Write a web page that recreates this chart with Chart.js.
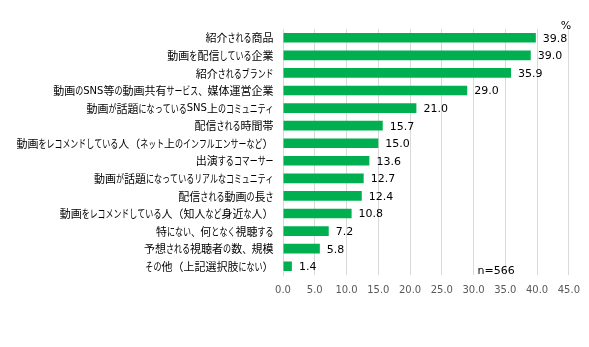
<!DOCTYPE html>
<html>
<head>
<meta charset="utf-8">
<script src="https://cdn.jsdelivr.net/npm/chart.js@4/dist/chart.umd.min.js"></script>
<style>
  html, body { margin: 0; padding: 0; background: #fff; }
  #wrap { width: 589px; height: 347px; position: relative; }
</style>
</head>
<body>
<div id="wrap"><canvas id="c" width="589" height="347"></canvas></div>
<script>
// Survey items (top to bottom) and share of respondents, %
const categories = [
  "紹介される商品",
  "動画を配信している企業",
  "紹介されるブランド",
  "動画のSNS等の動画共有サービス、媒体運営企業",
  "動画が話題になっているSNS上のコミュニティ",
  "配信される時間帯",
  "動画をレコメンドしている人（ネット上のインフルエンサーなど）",
  "出演するコマーサー",
  "動画が話題になっているリアルなコミュニティ",
  "配信される動画の長さ",
  "動画をレコメンドしている人（知人など身近な人）",
  "特にない、何となく視聴する",
  "予想される視聴者の数、規模",
  "その他（上記選択肢にない）"
];
const values = [39.8, 39.0, 35.9, 29.0, 21.0, 15.7, 15.0, 13.6, 12.7, 12.4, 10.8, 7.2, 5.8, 1.4];
const unitLabel = "%";
const sampleLabel = "n=566";

const NUM_FONT = "DejaVu Sans";
const JP_FONT = "Noto Sans CJK JP";

// Kana are set narrower than kanji (UI-style Japanese typesetting)
function charStyle(ch) {
  const c = ch.codePointAt(0);
  if (c < 0x80) return { font: "10px '" + NUM_FONT + "'", sx: 1 };
  if (c >= 0x3041 && c <= 0x309F) return { font: "11px '" + JP_FONT + "'", sx: 0.73 };
  if (c >= 0x30A0 && c <= 0x30FF) return { font: "11px '" + JP_FONT + "'", sx: 0.72 };
  if (c === 0x3001) return { font: "11px '" + JP_FONT + "'", sx: 0.85 };
  return { font: "11px '" + JP_FONT + "'", sx: 1 };
}

function drawLabel(ctx, text, right, y) {
  const parts = Array.from(text).map((ch) => {
    const st = charStyle(ch);
    ctx.font = st.font;
    return { ch, st, w: ctx.measureText(ch).width * st.sx };
  });
  let x = right - parts.reduce((s, p) => s + p.w, 0);
  parts.forEach((p) => {
    ctx.font = p.st.font;
    ctx.save();
    ctx.translate(x, y);
    ctx.scale(p.st.sx, 1);
    ctx.fillText(p.ch, 0, 0);
    ctx.restore();
    x += p.w;
  });
}

// Category names, value labels beside each bar, unit and sample-size notes
const annotate = {
  id: "annotate",
  afterDatasetsDraw(chart) {
    const ctx = chart.ctx;
    const yScale = chart.scales.y;
    const area = chart.chartArea;
    ctx.save();
    ctx.fillStyle = "#000";
    ctx.textBaseline = "middle";
    ctx.textAlign = "left";
    categories.forEach((name, i) => {
      drawLabel(ctx, name, area.left - 9.5, yScale.getPixelForTick(i) + 0.5);
    });

    const meta = chart.getDatasetMeta(0);
    ctx.font = "11px '" + NUM_FONT + "'";
    meta.data.forEach((bar, i) => {
      ctx.fillText(values[i].toFixed(1), bar.x + 7, bar.y + 1);
    });
    ctx.textAlign = "center";
    ctx.fillText(unitLabel, area.right - 3, area.top - 3);
    ctx.textAlign = "left";
    ctx.fillText(sampleLabel, chart.scales.x.getPixelForValue(30) + 4, area.bottom - 4);
    ctx.restore();
  }
};

new Chart(document.getElementById("c"), {
  type: "bar",
  data: {
    labels: categories,
    datasets: [{
      data: values,
      backgroundColor: "#00B050",
      borderWidth: 0,
      categoryPercentage: 1,
      barPercentage: 0.55
    }]
  },
  options: {
    indexAxis: "y",
    responsive: false,
    animation: false,
    devicePixelRatio: 1,
    layout: { padding: { top: 29, right: 19, bottom: 0, left: 0 } },
    plugins: {
      legend: { display: false },
      tooltip: { enabled: false }
    },
    scales: {
      x: {
        min: 0,
        max: 45,
        afterFit(scale) { scale.height = 72; },
        grid: { color: "#D9D9D9", lineWidth: 1, drawTicks: false },
        border: { display: false },
        ticks: {
          stepSize: 5,
          padding: 9,
          color: "#595959",
          font: { family: NUM_FONT, size: 10 },
          callback: (v) => Number(v).toFixed(1)
        }
      },
      y: {
        afterFit(scale) { scale.width = 283; },
        grid: { display: false, drawTicks: false },
        border: { display: true, color: "#D9D9D9", width: 1 },
        ticks: { display: false, autoSkip: false }
      }
    }
  },
  plugins: [annotate]
});
</script>
</body>
</html>
